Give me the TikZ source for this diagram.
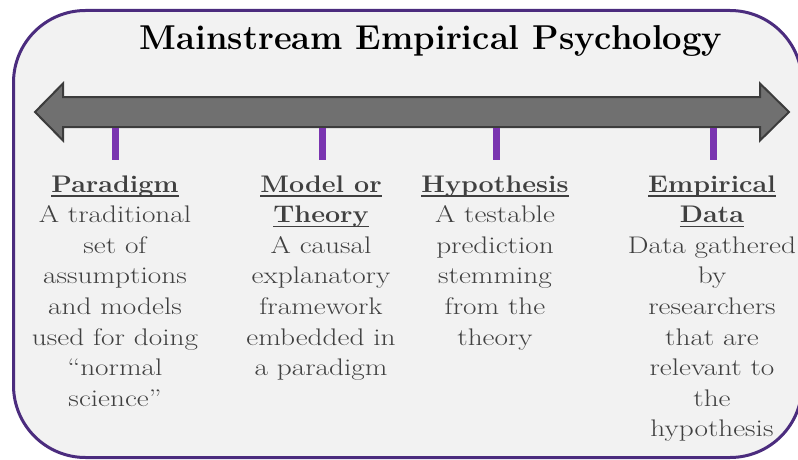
\documentclass[tikz,border=0pt]{standalone}
\usepackage{fontspec}
\newfontfamily\bodyfont{Latin Modern Roman}[FakeStretch=1.22]
\newfontfamily\headfont{Latin Modern Roman}[FakeStretch=1.12]
\definecolor{framepurple}{HTML}{4B2C7E}
\definecolor{tickpurple}{HTML}{7A35B0}
\definecolor{panelgray}{HTML}{F2F2F2}
\definecolor{shaftgray}{HTML}{707070}
\definecolor{shaftedge}{HTML}{3C3C3C}
\definecolor{textgray}{HTML}{404040}
% bold heading, underlined at a fixed depth below the baseline (crossing descenders)
\newcommand\hdul[1]{\setbox0=\hbox{\headfont\bfseries #1}\rlap{\rule[-4.5pt]{\wd0}{1.4pt}}\box0}
\tikzset{
  panel/.style={draw=framepurple, line width=3pt, fill=panelgray, rounded corners=72pt},
  timeline/.style={fill=shaftgray, draw=shaftedge, line width=2pt, line join=miter},
  tick/.style={draw=tickpurple, line width=7pt},
  titletext/.style={font=\fontsize{34.5}{40}\selectfont\bfseries, text=black, inner sep=0pt},
  % columns are anchored at the baseline of their last line
  column/.style={font=\bodyfont\fontsize{24}{30.6}\selectfont, text=textgray, align=center, inner sep=0pt, anchor=base}
}
\begin{document}
\begin{tikzpicture}[x=1pt,y=-1pt]
\useasboundingbox (0,0) rectangle (798,460);
\begin{scope}
  \clip (0,0) rectangle (798,460);
  \draw[panel] (13.5,10.5) rectangle (802,457.5);
\end{scope}
% double-headed timeline arrow
\draw[timeline] (35,112) -- (63,83.5) -- (63,97) -- (760,97) -- (760,83.5) -- (789,112)
  -- (760,140.5) -- (760,127) -- (63,127) -- (63,140.5) -- cycle;
% tick marks
\foreach \x in {115,322,496,713} \draw[tick] (\x,128) -- (\x,160);
\node[titletext, anchor=base] (title) at (431,50) {Mainstream Empirical Psychology};
\node[column] (paradigm) at (115,406.2) {\hdul{Paradigm}\\A traditional\\set of\\assumptions\\and models\\used for doing\\“normal\\science”};
\node[column] (model) at (321,375.6) {\hdul{Model or}\\\hdul{Theory}\\A causal\\explanatory\\framework\\embedded in\\a paradigm};
\node[column] (hypothesis) at (495,345) {\hdul{Hypothesis}\\A testable\\prediction\\stemming\\from the\\theory};
\node[column] (data) at (712,436.8) {\hdul{Empirical}\\\hdul{Data}\\Data gathered\\by\\researchers\\that are\\relevant to\\the\\hypothesis};
\end{tikzpicture}
\end{document}
